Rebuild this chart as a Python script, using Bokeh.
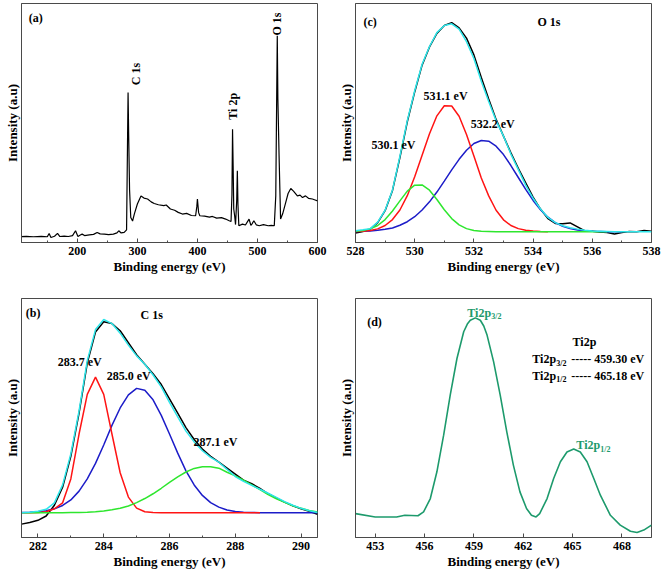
from bokeh.plotting import figure
from bokeh.layouts import column, row
from bokeh.models import Range1d, FixedTicker
from bokeh.core.properties import value
from bokeh.embed import file_html
from bokeh.resources import INLINE

# ---------------- data ----------------
# (a) survey spectrum
SURVEY_X = [105, 115, 127, 140, 150, 153, 156, 162, 167, 171, 178, 185, 192, 197, 201, 205, 208,
            212, 220, 227, 233, 238, 245, 252, 260, 266, 269, 273, 278, 282, 283.5, 284.5, 285.5,
            287, 289, 292, 295, 300, 306, 311, 317, 323, 328, 335, 344, 348, 355, 362, 368, 375,
            382, 390, 397, 399, 400, 402, 404, 412, 420, 425, 432, 440, 447, 453, 456, 457.5,
            458.5, 459.5, 460.5, 462, 463.5, 465.5, 466.5, 467.5, 469, 475, 480, 486, 489, 491,
            494, 498, 503, 510, 518, 523, 528, 530.5, 532, 533, 534, 536, 538.5, 542, 547, 551,
            555.5, 560, 566.5, 571, 575, 580, 585, 591.5, 596, 600]
SURVEY_Y = [2.4, 2.6, 2.4, 2.6, 2.4, 3.8, 2.1, 2.6, 3.8, 2.5, 2.7, 2.5, 2.9, 4.9, 2.5, 3.1, 3.5,
            2.9, 3.2, 3.4, 4.2, 3.6, 3.5, 3.3, 3.5, 4.0, 4.9, 4.0, 4.2, 5.3, 40.0, 62.8, 45.0,
            22.0, 10.5, 9.0, 12.0, 16.1, 19.5, 18.6, 18.2, 17.0, 16.3, 15.8, 15.4, 15.7, 14.0,
            13.5, 12.6, 11.9, 12.2, 11.3, 11.2, 15.0, 18.2, 12.5, 11.2, 11.0, 10.6, 10.9, 10.2,
            10.4, 9.8, 9.1, 8.8, 20.0, 47.4, 32.0, 14.0, 11.2, 7.5, 18.0, 30.0, 16.0, 7.0, 7.7,
            7.3, 9.8, 7.2, 7.8, 9.1, 7.4, 7.0, 7.5, 7.0, 7.2, 7.0, 19.5, 60.0, 86.5, 60.0, 36.3,
            9.8, 12.0, 16.7, 20.5, 22.6, 21.5, 19.5, 19.8, 18.8, 19.5, 18.5, 18.2, 17.8, 17.4]

# (b) C 1s
C1S_X = [281.5, 281.75, 282.0, 282.25, 282.5, 282.75, 283.0, 283.25, 283.5, 283.75, 284.0,
         284.25, 284.5, 284.75, 285.0, 285.25, 285.5, 285.75, 286.0, 286.25, 286.5, 286.75,
         287.0, 287.25, 287.5, 287.75, 288.0, 288.25, 288.5, 288.75, 289.0, 289.25, 289.5,
         289.75, 290.0, 290.25, 290.5]
C1S_DATA = [5.6, 6.3, 7.2, 9.0, 13.5, 21.0, 34.0, 52.0, 73.0, 86.0, 90.3, 89.5, 86.5, 81.5,
            76.5, 72.5, 68.5, 64.0, 58.0, 52.0, 46.0, 41.0, 37.0, 34.0, 31.5, 29.0, 26.5, 24.0,
            22.5, 20.5, 18.3, 16.5, 14.8, 13.3, 12.0, 11.0, 9.7]
C1S_FIT = [10.4, 10.6, 11.0, 11.8, 14.5, 22.0, 35.0, 53.0, 74.0, 87.0, 91.2, 89.5, 85.5, 80.5,
           76.0, 72.5, 68.0, 63.0, 56.5, 50.5, 44.5, 40.0, 36.3, 33.5, 31.5, 28.5, 25.5, 23.5,
           21.8, 20.2, 18.5, 16.8, 15.0, 13.5, 12.2, 11.2, 10.5]
C1S_2837 = [10.4, 10.4, 10.5, 10.8, 12.0, 14.5, 24.5, 43.3, 59.9, 67.1, 59.9, 43.3, 27.1, 16.9,
            12.3, 10.8, 10.5, 10.4, 10.4, 10.4, 10.4, 10.4, 10.4, 10.4, 10.4, 10.4, 10.4, 10.4,
            10.4, 10.4]
C1S_2850 = [10.5, 10.6, 10.8, 11.2, 12.0, 13.4, 15.7, 19.4, 24.5, 31.0, 38.7, 46.9, 54.2, 59.7,
            62.4, 61.6, 57.6, 51.1, 43.3, 35.3, 27.9, 22.0, 17.6, 14.6, 12.7, 11.5, 10.9, 10.6,
            10.5, 10.4, 10.4, 10.4, 10.4, 10.4, 10.4, 10.4, 10.4]
C1S_2871 = [10.4, 10.4, 10.4, 10.4, 10.4, 10.4, 10.5, 10.5, 10.6, 10.8, 11.1, 11.6, 12.2, 13.2,
            14.6, 16.3, 18.3, 20.6, 23.1, 25.4, 27.4, 28.9, 29.6, 29.6, 29.0, 27.3, 25.8, 24.0,
            22.0, 20.0, 18.0, 16.2, 14.7, 13.3, 12.2, 11.3, 10.7]

# (c) O 1s
O1S_X = [528.0, 528.25, 528.5, 528.75, 529.0, 529.25, 529.5, 529.75, 530.0, 530.25, 530.5,
         530.75, 531.0, 531.25, 531.5, 531.75, 532.0, 532.25, 532.5, 532.75, 533.0, 533.25,
         533.5, 533.75, 534.0, 534.25, 534.5, 534.75, 535.0, 535.25, 535.5, 535.75, 536.0,
         536.25, 536.5, 536.75, 537.0, 537.25, 537.5, 537.75, 538.0]
O1S_DATA = [4.0, 4.6, 5.6, 8.3, 13.3, 21.8, 35.5, 50.5, 63.0, 74.2, 81.8, 87.5, 90.8, 92.0,
            89.8, 85.5, 78.5, 69.0, 60.0, 51.5, 44.5, 37.5, 31.0, 25.0, 19.0, 14.0, 10.0, 8.0,
            7.8, 8.2, 6.5, 4.8, 4.7, 4.4, 4.2, 3.6, 4.2, 4.6, 4.5, 5.0, 4.7]
O1S_FIT = [4.9, 5.3, 5.8, 8.5, 13.5, 22.0, 36.0, 51.0, 63.5, 74.6, 82.0, 87.8, 90.8, 91.5, 89.3,
           84.0, 77.0, 67.5, 59.0, 51.0, 44.5, 37.0, 30.5, 24.0, 18.5, 14.0, 10.5, 8.3, 7.0, 6.2,
           5.6, 5.1, 4.8, 4.7, 4.6, 4.5, 4.5, 4.5, 4.5, 4.5, 4.5]
O1S_5311 = [4.6, 4.7, 5.0, 5.7, 7.1, 9.6, 13.6, 19.6, 27.5, 36.5, 45.5, 53.0, 57.2, 57.1, 52.8,
            45.2, 36.2, 27.0, 19.5, 13.5, 9.5, 7.1, 5.8, 5.1, 4.8, 4.6, 4.5]
O1S_5301 = [4.7, 5.0, 5.7, 7.1, 9.6, 13.2, 17.4, 21.5, 24.0, 24.1, 21.9, 18.0, 13.7, 10.0, 7.4,
            5.8, 5.0, 4.7, 4.6, 4.5, 4.5, 4.5, 4.5, 4.5, 4.5, 4.5, 4.5, 4.5, 4.5, 4.5, 4.5, 4.5,
            4.5, 4.5, 4.5]
O1S_5322 = [4.6, 4.7, 4.8, 5.1, 5.5, 6.1, 7.2, 8.7, 10.8, 13.6, 17.0, 21.1, 25.7, 30.4, 34.8,
            38.6, 41.4, 42.7, 42.4, 40.3, 36.8, 32.2, 27.2, 22.2, 17.6, 13.7, 10.6, 8.3, 6.8,
            5.8, 5.2, 4.9, 4.7, 4.6, 4.5, 4.5, 4.5]

# (d) Ti 2p
TI_X = [451.8, 453.0, 454.3, 454.8, 455.6, 455.94, 456.35, 456.75, 457.16, 457.56, 457.97,
        458.38, 458.6, 458.78, 459.09, 459.39, 459.6, 459.8, 460.2, 460.6, 461.0, 461.4,
        461.8, 462.2, 462.5, 462.78, 463.0, 463.45, 463.85, 464.26, 464.66, 465.07, 465.47,
        465.88, 466.29, 466.69, 467.3, 467.9, 468.52, 468.92, 469.33, 469.8]
TI_Y = [10.0, 8.6, 8.6, 9.3, 9.1, 10.7, 16.3, 27.5, 42.8, 59.6, 74.9, 86.1, 89.3, 90.9, 91.9,
        90.9, 88.5, 84.7, 73.5, 59.6, 44.2, 30.3, 19.1, 12.1, 9.3, 8.6, 10.0, 16.3, 24.7, 31.7,
        35.8, 37.0, 35.8, 31.7, 24.7, 17.7, 9.3, 5.2, 2.6, 2.1, 3.1, 5.2]

A_TICKS = [200, 300, 400, 500, 600]
B_TICKS = [282, 284, 286, 288, 290]
C_TICKS = [528, 530, 532, 534, 536, 538]
D_TICKS = [453, 456, 459, 462, 465, 468]

# ---------------- styling ----------------
FONT = "Liberation Serif"
FRAME = "#4a4a4a"
RED = "#ff1414"
BLUE = "#1c1cc8"
GREEN = "#2ee62e"
CYAN = "#2ee6ea"
TEAL = "#1d9a6c"


def make_fig(xr, major, minor, mbl, mbr, mbt, mbb):
    p = figure(frame_width=296, frame_height=239,
               x_range=Range1d(*xr), y_range=Range1d(0, 100),
               output_backend="svg", toolbar_location=None,
               min_border_left=mbl, min_border_right=mbr,
               min_border_top=mbt, min_border_bottom=mbb)
    p.outline_line_color = FRAME
    p.outline_line_width = 1
    p.xgrid.visible = False
    p.ygrid.visible = False
    ax = p.xaxis[0]
    ax.ticker = FixedTicker(ticks=major, minor_ticks=minor)
    ax.major_tick_in = 4
    ax.major_tick_out = 0
    ax.minor_tick_in = 2
    ax.minor_tick_out = 0
    ax.axis_line_color = FRAME
    ax.major_tick_line_color = FRAME
    ax.minor_tick_line_color = FRAME
    ax.major_label_text_font = FONT
    ax.major_label_text_font_style = "bold"
    ax.major_label_text_font_size = "12px"
    ax.major_label_text_color = "black"
    ax.major_label_standoff = 4
    ax.axis_label = "Binding energy (eV)"
    ax.axis_label_text_font = FONT
    ax.axis_label_text_font_style = "bold"
    ax.axis_label_text_font_size = "13px"
    ax.axis_label_text_color = "black"
    ax.axis_label_standoff = 1
    ay = p.yaxis[0]
    ay.ticker = FixedTicker(ticks=[])
    ay.axis_line_color = FRAME
    ay.axis_label = "Intensity (a.u)"
    ay.axis_label_text_font = FONT
    ay.axis_label_text_font_style = "bold"
    ay.axis_label_text_font_size = "13px"
    ay.axis_label_text_color = "black"
    ay.axis_label_standoff = 2
    return p


def label(p, x, y, text, color="black", size="12px", align="left", angle=0.0,
          x_offset=0, y_offset=0):
    p.text(x=[x], y=[y], text=[text], text_font=value(FONT), text_font_style="bold",
           text_font_size=size, text_color=color, text_align=align,
           text_baseline="middle", angle=angle, x_offset=x_offset, y_offset=y_offset)


# (a) survey
pa = make_fig((107, 600), A_TICKS, [150, 250, 350, 450, 550], 21, 12, 3, 55)
pa.line(SURVEY_X, SURVEY_Y, line_color="black", line_width=1.2)
label(pa, 119, 94, "(a)")
label(pa, 297, 70.5, "C 1s", align="center", angle=1.5708)
label(pa, 460, 57, "Ti 2p", align="center", angle=1.5708)
label(pa, 532.5, 91.4, "O 1s", align="center", angle=1.5708)

# (c) O 1s
pc = make_fig((528, 538), C_TICKS, [529, 531, 533, 535, 537], 26, 10, 3, 55)
pc.line(O1S_X, O1S_DATA, line_color="black", line_width=1.5)
pc.line(O1S_X[:len(O1S_5322)], O1S_5322, line_color=BLUE, line_width=1.5)
pc.line(O1S_X[:len(O1S_5311)], O1S_5311, line_color=RED, line_width=1.5)
pc.line(O1S_X[:len(O1S_5301)], O1S_5301, line_color=GREEN, line_width=1.5)
pc.line(O1S_X, O1S_FIT, line_color=CYAN, line_width=1.5)
label(pc, 528.27, 92.3, "(c)")
label(pc, 534.15, 92.3, "O 1s")
label(pc, 530.3, 61.4, "531.1 eV")
label(pc, 531.89, 49.7, "532.2 eV")
label(pc, 528.54, 40.9, "530.1 eV")

# (b) C 1s
pb = make_fig((281.5, 290.5), B_TICKS, [283, 285, 287, 289], 21, 12, 1, 30)
pb.line(C1S_X, C1S_DATA, line_color="black", line_width=1.5)
pb.line(C1S_X, C1S_2850, line_color=BLUE, line_width=1.5)
pb.line(C1S_X[:len(C1S_2837)], C1S_2837, line_color=RED, line_width=1.5)
pb.line(C1S_X, C1S_2871, line_color=GREEN, line_width=1.5)
pb.line(C1S_X, C1S_FIT, line_color=CYAN, line_width=1.5)
label(pb, 281.63, 93.8, "(b)")
label(pb, 285.12, 93.3, "C 1s")
label(pb, 282.6, 73.3, "283.7 eV")
label(pb, 284.09, 67.5, "285.0 eV")
label(pb, 286.73, 40.0, "287.1 eV")

# (d) Ti 2p
pd = make_fig((451.8, 469.8), D_TICKS, [], 26, 10, 1, 30)
pd.line(TI_X, TI_Y, line_color=TEAL, line_width=1.6)
label(pd, 452.51, 90.1, "(d)")
label(pd, 458.6, 94.0, "Ti2p", color=TEAL)
label(pd, 458.6, 94.0, "3/2", color=TEAL, size="8px", x_offset=24, y_offset=4)
label(pd, 465.23, 38.6, "Ti2p", color=TEAL)
label(pd, 465.23, 38.6, "1/2", color=TEAL, size="8px", x_offset=24, y_offset=4)
label(pd, 465.0, 81.8, "Ti2p")
label(pd, 462.55, 74.6, "Ti2p")
label(pd, 462.55, 74.6, "3/2", size="8px", x_offset=24, y_offset=4)
label(pd, 462.55, 74.6, "----- 459.30 eV", x_offset=39)
label(pd, 462.55, 67.6, "Ti2p")
label(pd, 462.55, 67.6, "1/2", size="8px", x_offset=24, y_offset=4)
label(pd, 462.55, 67.6, "----- 465.18 eV", x_offset=39)

layout = column(row(pa, pc, spacing=0), row(pb, pd, spacing=0), spacing=0)
open("out.html", "w").write(file_html(layout, INLINE, title="XPS spectra"))
